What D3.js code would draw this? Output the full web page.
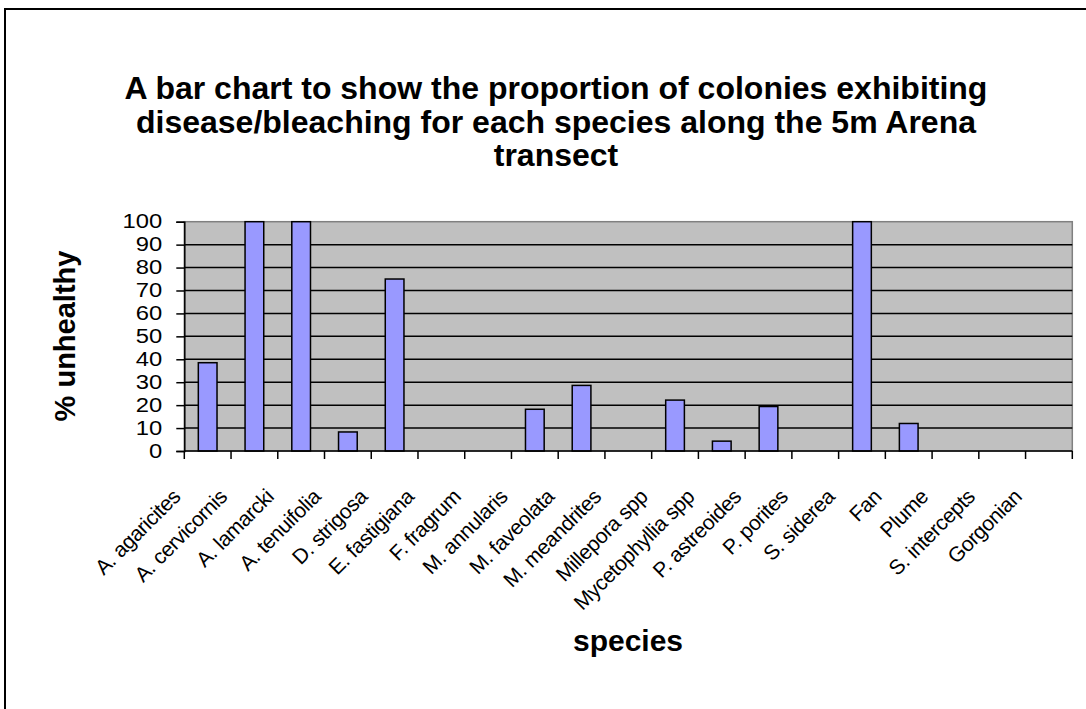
<!DOCTYPE html>
<html>
<head>
<meta charset="utf-8">
<script src="https://cdnjs.cloudflare.com/ajax/libs/d3/7.8.5/d3.min.js"></script>
<style>
body { margin: 0; background: #fff; }
text { font-family: 'Liberation Sans', Arial, sans-serif; }
</style>
</head>
<body>
<div class="main"></div>
<script>
var titleLines = [
    'A bar chart to show the proportion of colonies exhibiting',
    'disease/bleaching for each species along the 5m Arena',
    'transect'
];
var species = ['A. agaricites', 'A. cervicornis', 'A. lamarcki', 'A. tenuifolia', 'D. strigosa',
    'E. fastigiana', 'F. fragrum', 'M. annularis', 'M. faveolata', 'M. meandrites',
    'Millepora spp', 'Mycetophyllia spp', 'P. astreoides', 'P. porites', 'S. siderea',
    'Fan', 'Plume', 'S. intercepts', 'Gorgonian'];
var unhealthy = [38.5, 100, 100, 8.3, 75, 0, 0, 18.2, 28.6, 0, 22.2, 4.3, 19.4, 0, 100, 12, 0, 0, 0];
var yTicks = [0, 10, 20, 30, 40, 50, 60, 70, 80, 90, 100];

var options = {
    'width': 1086,
    'height': 709,
    'left': 184.3,
    'right': 1072.3,
    'top': 221.7,
    'bottom': 451
};

var data = species.map(function (d, i) {
    return { name: d, value: unhealthy[i] };
});

var svg = d3.select('.main')
    .append('svg')
    .attr('width', options.width)
    .attr('height', options.height);

// outer chart border
svg.append('rect')
    .attr('x', 5)
    .attr('y', 9)
    .attr('width', 1100)
    .attr('height', 720)
    .style('fill', '#fff')
    .style('stroke', '#000')
    .style('stroke-width', '2px');

var x = d3.scaleBand()
    .domain(species)
    .range([options.left, options.right])
    .paddingInner(0.6)
    .paddingOuter(0.3);

var y = d3.scaleLinear()
    .domain([0, 100])
    .range([options.bottom, options.top]);

// plot area
svg.append('rect')
    .attr('x', options.left)
    .attr('y', options.top)
    .attr('width', options.right - options.left)
    .attr('height', options.bottom - options.top)
    .style('fill', '#c0c0c0')
    .style('stroke', '#808080')
    .style('stroke-width', '1.5px');

// gridlines
svg.append('g')
    .selectAll('.grid')
    .data(yTicks.filter(function (d) { return d > 0 && d < 100; }))
    .enter()
    .append('line')
    .attr('class', 'grid')
    .attr('x1', options.left)
    .attr('x2', options.right)
    .attr('y1', function (d) { return y(d); })
    .attr('y2', function (d) { return y(d); })
    .style('stroke', '#000')
    .style('stroke-width', '1.5px');

// bars
svg.append('g')
    .selectAll('.bar')
    .data(data.filter(function (d) { return d.value > 0; }))
    .enter()
    .append('rect')
    .attr('class', 'bar')
    .attr('x', function (d) { return x(d.name); })
    .attr('y', function (d) { return y(d.value); })
    .attr('width', x.bandwidth())
    .attr('height', function (d) { return y(0) - y(d.value); })
    .style('fill', '#9999ff')
    .style('stroke', '#000')
    .style('stroke-width', '1.5px');

// y axis (labels are wide in the original, so stretch them a bit)
var yAxis = svg.append('g')
    .attr('transform', 'translate(' + options.left + ',0)')
    .call(d3.axisLeft(y).tickValues(yTicks).tickSize(8).tickPadding(14));

yAxis.select('.domain')
    .style('stroke', '#000')
    .style('stroke-width', '1.5px');
yAxis.selectAll('.tick line')
    .style('stroke-width', '1.5px');
yAxis.selectAll('.tick text')
    .attr('x', -22 / 1.22)
    .attr('transform', 'scale(1.22,1)')
    .style('font-size', '19.5px')
    .style('font-family', "'Liberation Sans', Arial, sans-serif")
    .style('fill', '#000');

// x axis line and ticks at category boundaries
svg.append('line')
    .attr('x1', options.left)
    .attr('x2', options.right)
    .attr('y1', y(0))
    .attr('y2', y(0))
    .style('stroke', '#000')
    .style('stroke-width', '1.5px');

var bounds = d3.range(species.length + 1).map(function (i) {
    return options.left + i * x.step();
});

svg.append('g')
    .selectAll('.xtick')
    .data(bounds)
    .enter()
    .append('line')
    .attr('class', 'xtick')
    .attr('x1', function (d) { return d; })
    .attr('x2', function (d) { return d; })
    .attr('y1', y(0))
    .attr('y2', y(0) + 8)
    .style('stroke', '#000')
    .style('stroke-width', '1.5px');

// category labels
svg.append('g')
    .selectAll('.cat')
    .data(species)
    .enter()
    .append('text')
    .attr('class', 'cat')
    .text(function (d) { return d; })
    .attr('text-anchor', 'end')
    .attr('transform', function (d) {
        return 'translate(' + [x(d) + x.bandwidth() / 2 - 26, 498] + ') rotate(-45)';
    })
    .style('font-size', '21px')
    .style('letter-spacing', '-0.4px')
    .style('fill', '#000');

// title
svg.append('g')
    .selectAll('.title')
    .data(titleLines)
    .enter()
    .append('text')
    .attr('class', 'title')
    .text(function (d) { return d; })
    .attr('x', 556)
    .attr('y', function (d, i) { return 99 + i * 33.5; })
    .attr('text-anchor', 'middle')
    .style('font-size', '32px')
    .style('font-weight', 'bold')
    .style('fill', '#000');

// axis titles
svg.append('text')
    .text('% unhealthy')
    .attr('transform', 'translate(75,336) rotate(-90)')
    .attr('text-anchor', 'middle')
    .style('font-size', '29px')
    .style('font-weight', 'bold')
    .style('fill', '#000');

svg.append('text')
    .text('species')
    .attr('x', 628)
    .attr('y', 651)
    .attr('text-anchor', 'middle')
    .style('font-size', '30px')
    .style('font-weight', 'bold')
    .style('fill', '#000');
</script>
</body>
</html>
